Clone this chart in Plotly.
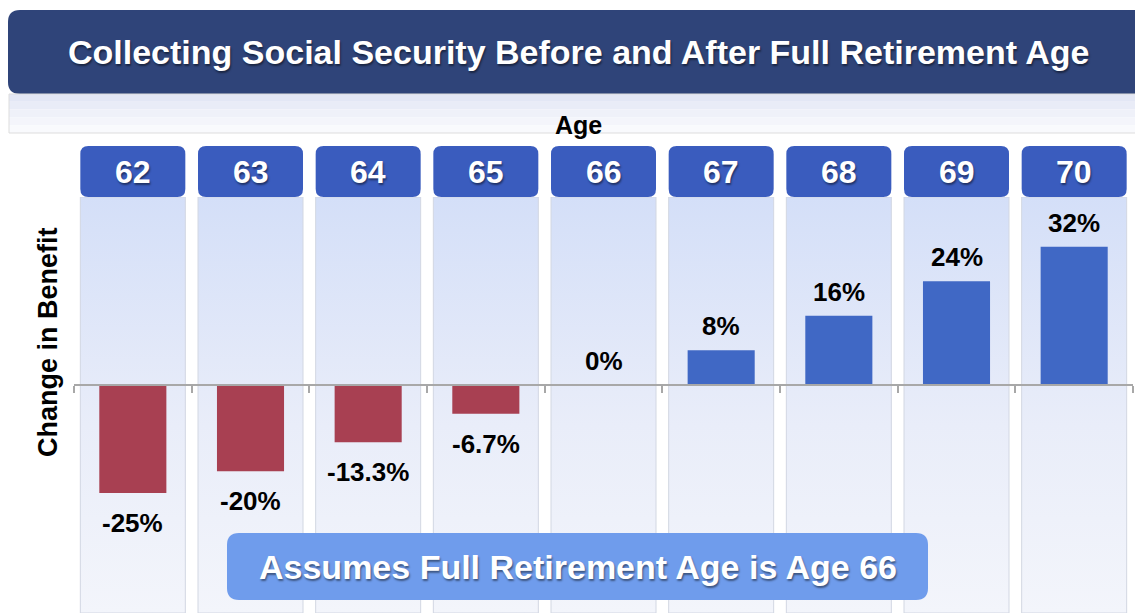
import plotly.graph_objects as go

# ---------------- data ----------------
ages = ["62", "63", "64", "65", "66", "67", "68", "69", "70"]
change_pct = [-25, -20, -13.3, -6.7, 0, 8, 16, 24, 32]
value_labels = ["-25%", "-20%", "-13.3%", "-6.7%", "0%", "8%", "16%", "24%", "32%"]
title_text = "Collecting Social Security Before and After Full Retirement Age"
x_title = "Age"
y_title = "Change in Benefit"
note_text = "Assumes Full Retirement Age is Age 66"

# ---------------- geometry (pixels) ----------------
W, H = 1135, 613
L, R, T, B = 74, 1133, 197, 613
YMIN, YMAX = -52.8, 43.5

def pxp(px):  # pixel x -> paper x
    return (px - L) / (R - L)

def pyp(py):  # pixel y -> paper y
    return (B - py) / (B - T)

def rrect(w, h, r):
    """Rounded rectangle path centred on anchor, pixel units."""
    x0, x1, y0, y1 = -w / 2, w / 2, -h / 2, h / 2
    return (f"M {x0 + r},{y0} L {x1 - r},{y0} Q {x1},{y0} {x1},{y0 + r} "
            f"L {x1},{y1 - r} Q {x1},{y1} {x1 - r},{y1} L {x0 + r},{y1} "
            f"Q {x0},{y1} {x0},{y1 - r} L {x0},{y0 + r} Q {x0},{y0} {x0 + r},{y0} Z")

RED = "#A84052"
BLUE = "#4068C5"
NAVY = "#2F4479"
BOXBLUE = "#3A5CBE"
NOTEBLUE = "#6F9CEC"
FONT = "Liberation Sans, Arial, sans-serif"
SHADOW = "1px 2px 2px rgba(0,0,0,0.45)"

fig = go.Figure()

# column panels with vertical gradient (base axes)
half = 52.5 / ((R - L) / 9)
for i, a in enumerate(ages):
    fig.add_trace(go.Scatter(
        x=[i - half, i + half, i + half, i - half, i - half],
        y=[YMAX, YMAX, YMIN, YMIN, YMAX],
        mode="lines", fill="toself",
        line=dict(color="#D2D7E2", width=1),
        fillgradient=dict(type="vertical",
                          colorscale=[[0, "#F3F5FB"], [0.45, "#E9EDF9"], [1, "#D4DFF8"]]),
        hoverinfo="skip", showlegend=False, xaxis="x", yaxis="y",
    ))

# bars on an overlaying subplot so they sit above the panels
colors = [RED if v < 0 else BLUE for v in change_pct]
fig.add_trace(go.Bar(
    x=list(range(len(ages))), y=change_pct,
    marker=dict(color=colors, line=dict(width=0)),
    width=0.57, showlegend=False, hoverinfo="skip",
    xaxis="x2", yaxis="y2",
))

# value labels
for i, (v, lab) in enumerate(zip(change_pct, value_labels)):
    fig.add_annotation(
        x=i, y=v, xref="x", yref="y", text=f"<b>{lab}</b>", showarrow=False,
        xanchor="center",
        yanchor="top" if v < 0 else "bottom",
        yshift=-13 if v < 0 else 7,
        font=dict(family=FONT, size=26, color="#000000"),
    )

shapes = []
# title banner
shapes.append(dict(type="path", xref="paper", yref="paper",
                   xsizemode="pixel", ysizemode="pixel",
                   xanchor=pxp((8 + 1150) / 2), yanchor=pyp(52),
                   path=rrect(1150 - 8, 84, 12),
                   fillcolor=NAVY, line=dict(width=0), layer="above"))
# light strip below title (banded gradient)
strip_cols = ["#E3E7F5", "#E9ECF7", "#EFF1F9", "#F4F5FB", "#F9FAFD"]
y0 = 94
band = (133 - 94) / len(strip_cols)
for k, c in enumerate(strip_cols):
    shapes.append(dict(type="rect", xref="paper", yref="paper",
                       x0=pxp(9), x1=pxp(1135), y0=pyp(y0 + (k + 1) * band), y1=pyp(y0 + k * band),
                       fillcolor=c, line=dict(width=0), layer="above"))
shapes.append(dict(type="rect", xref="paper", yref="paper",
                   x0=pxp(9), x1=pxp(1136), y0=pyp(133), y1=pyp(94),
                   fillcolor="rgba(0,0,0,0)", line=dict(color="#DDDDDD", width=1), layer="above"))
# age boxes
for i, a in enumerate(ages):
    shapes.append(dict(type="path", xref="x", yref="paper",
                       xsizemode="pixel", ysizemode="pixel",
                       xanchor=i, yanchor=pyp(171.5),
                       path=rrect(105, 51, 8),
                       fillcolor=BOXBLUE, line=dict(width=0), layer="above"))
# note banner
shapes.append(dict(type="path", xref="paper", yref="paper",
                   xsizemode="pixel", ysizemode="pixel",
                   xanchor=pxp((227 + 928) / 2), yanchor=pyp(566.5),
                   path=rrect(928 - 227, 67, 12),
                   fillcolor=NOTEBLUE, line=dict(width=0), layer="above"))

annotations = []
annotations.append(dict(x=pxp(578), y=pyp(52), xref="paper", yref="paper",
                        text=f"<b>{title_text}</b>", showarrow=False,
                        font=dict(family=FONT, size=34, color="white", shadow=SHADOW)))
annotations.append(dict(x=pxp(578), y=pyp(125), xref="paper", yref="paper",
                        text=f"<b>{x_title}</b>", showarrow=False,
                        font=dict(family=FONT, size=25, color="black")))
for i, a in enumerate(ages):
    annotations.append(dict(x=i, y=pyp(172), xref="x", yref="paper",
                            text=f"<b>{a}</b>", showarrow=False,
                            font=dict(family=FONT, size=32, color="white", shadow=SHADOW)))
annotations.append(dict(x=pxp(48), y=pyp(342), xref="paper", yref="paper",
                        text=f"<b>{y_title}</b>", showarrow=False, textangle=-90,
                        font=dict(family=FONT, size=27, color="black")))
annotations.append(dict(x=pxp(578), y=pyp(567), xref="paper", yref="paper",
                        text=f"<b>{note_text}</b>", showarrow=False,
                        font=dict(family=FONT, size=34, color="white", shadow=SHADOW)))

for an in annotations:
    an.update(xanchor="center", yanchor="middle")
    fig.add_annotation(**an)

zero_pos = (0 - YMIN) / (YMAX - YMIN)
xr = [-0.5, len(ages) - 0.5]
fig.update_layout(
    width=W, height=H,
    margin=dict(l=L, r=W - R, t=T, b=H - B, pad=0),
    paper_bgcolor="white", plot_bgcolor="white",
    shapes=shapes,
    bargap=0.43,
    xaxis=dict(
        range=xr, tickmode="array",
        tickvals=[i - 0.5 for i in range(len(ages) + 1)], ticktext=[""] * (len(ages) + 1),
        ticks="outside", ticklen=7, tickcolor="#A8A8A8", tickwidth=1.5,
        showline=True, linecolor="#A8A8A8", linewidth=1.5,
        showgrid=False, zeroline=False, anchor="free", position=zero_pos,
        fixedrange=True,
    ),
    yaxis=dict(range=[YMIN, YMAX], showgrid=False, zeroline=False,
               showticklabels=False, showline=False, ticks="", fixedrange=True),
    xaxis2=dict(range=xr, overlaying="x", visible=False, fixedrange=True, anchor="y2"),
    yaxis2=dict(range=[YMIN, YMAX], overlaying="y", visible=False, fixedrange=True, anchor="x2"),
)

fig.write_html("out.html", config={"displayModeBar": False},
               post_script="document.body.style.margin='0';")
